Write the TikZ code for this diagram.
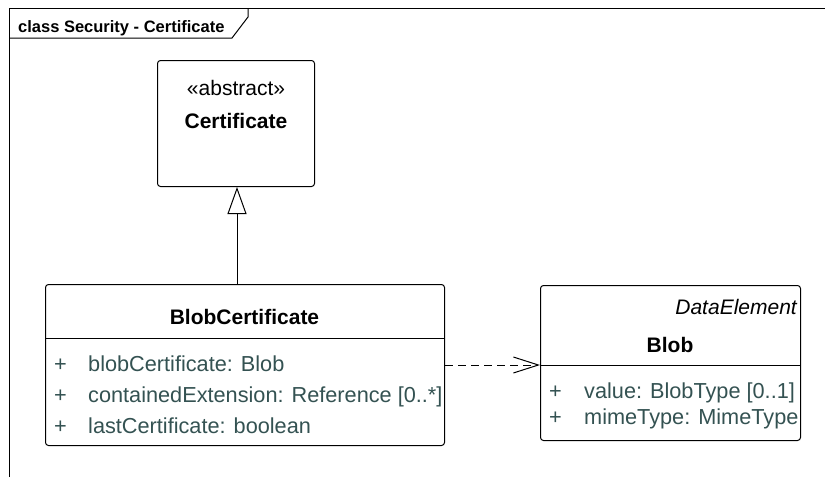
\documentclass[tikz,border=0pt]{standalone}
\usepackage{fontspec}
\setmainfont{Liberation Sans}
\usetikzlibrary{arrows.meta}
\definecolor{attr}{RGB}{52,82,82}
\tikzset{
  umlbox/.style={draw=black, line width=1pt, fill=white, rounded corners=3pt, anchor=north west, inner sep=0pt},
  ttl/.style={font=\fontsize{21}{25}\selectfont\bfseries, anchor=base, inner sep=0pt},
  stereo/.style={font=\fontsize{21}{25}\selectfont, anchor=base, inner sep=0pt},
  attrtxt/.style={font=\fontsize{21.7}{25}\selectfont, text=attr, anchor=base west, inner sep=0pt},
  frametxt/.style={font=\fontsize{16.5}{20}\selectfont\bfseries, anchor=base west, inner sep=0pt},
  ln/.style={line width=1pt, draw=black}
}
\begin{document}
\begin{tikzpicture}[x=1pt,y=-1pt]
\useasboundingbox (0,0) rectangle (825,477);
% frame
\draw[ln] (9,477) -- (9,8) -- (825,8);
\draw[ln] (9,38) -- (232,38) -- (248,17) -- (248,8);
\node[frametxt] (ftitle) at (18,32) {class Security - Certificate};

% Certificate
\node[umlbox, minimum width=157pt, minimum height=126pt] (cert) at (157,60) {};
\node[stereo] (certst) at (236,95) {«abstract»};
\node[ttl] (certname) at (236,128) {Certificate};

% BlobCertificate
\node[umlbox, minimum width=399pt, minimum height=161pt] (bc) at (45,284) {};
\draw[ln] (45,338) -- (444,338);
\node[ttl] (bcname) at (244.5,324) {BlobCertificate};
\node[attrtxt] (bcp1) at (54,371) {+};
\node[attrtxt] (bca1) at (88,371) {blobCertificate: Blob};
\node[attrtxt] (bcp2) at (54,402) {+};
\node[attrtxt] (bca2) at (88,402) {containedExtension: Reference [0..*]};
\node[attrtxt] (bcp3) at (54,433) {+};
\node[attrtxt] (bca3) at (88,433) {lastCertificate: boolean};

% Blob
\node[umlbox, minimum width=260pt, minimum height=155pt] (blob) at (540,285) {};
\draw[ln] (540,365) -- (800,365);
\node[stereo, anchor=base east, font=\fontsize{21}{25}\selectfont\itshape] (blobst) at (797,314) {DataElement};
\node[ttl] (blobname) at (670,352) {Blob};
\node[attrtxt] (blp1) at (549,398) {+};
\node[attrtxt] (bla1) at (584,398) {value: BlobType [0..1]};
\node[attrtxt] (blp2) at (549,424) {+};
\node[attrtxt] (bla2) at (584,424) {mimeType: MimeType};

% generalization
\coordinate (gx) at (237,0);
\draw[ln, -{Triangle[open, length=27pt, width=19pt, line width=1pt]}] (gx |- bc.north) -- (gx |- cert.south);

% dependency
\draw[ln, dash pattern=on 8pt off 5pt, -{Straight Barb[length=25pt, width=16pt, line width=1pt]}] (bc.east) -- (bc.east -| blob.west);
\end{tikzpicture}
\end{document}
